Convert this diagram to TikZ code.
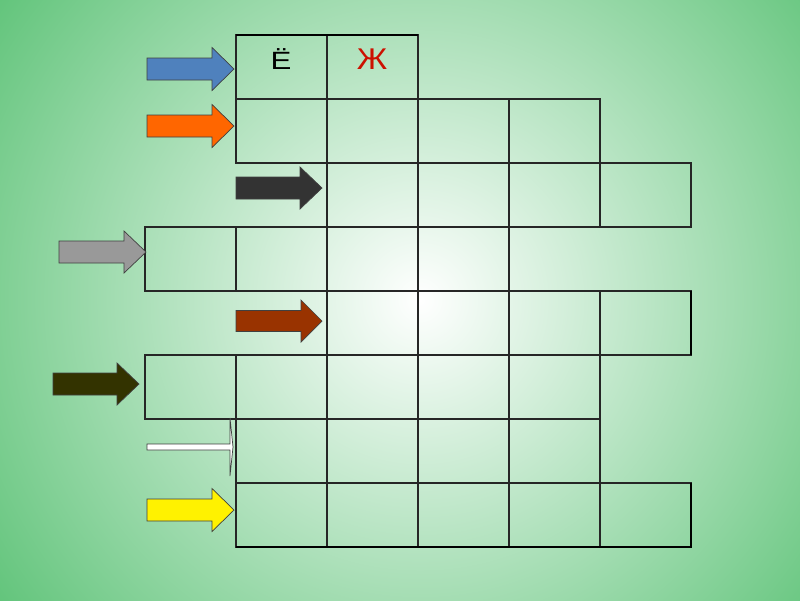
\documentclass[tikz,border=0pt]{standalone}
\usepackage{fontspec}
\setmainfont{Liberation Sans}
\definecolor{bgg}{HTML}{5CC276}
\definecolor{abl}{HTML}{4F81BD}
\definecolor{aor}{HTML}{FF6600}
\definecolor{adg}{HTML}{333333}
\definecolor{agr}{HTML}{999999}
\definecolor{abr}{HTML}{993300}
\definecolor{aol}{HTML}{333300}
\definecolor{ared}{HTML}{CC1100}
\tikzset{
  gridline/.style={draw=black!85, line width=1.1pt},
  thickedge/.style={draw=black, line width=2.4pt},
  arrowline/.style={draw=black!75, line width=0.7pt, line join=miter},
  letter/.style={anchor=base, inner sep=0pt}
}
\newcommand{\blockarrow}[7]{%
  \draw[arrowline, fill=#1] (#2,#5-#6) -- (#3,#5-#6) -- (#3,#5-#7) -- (#4,#5) -- (#3,#5+#7) -- (#3,#5+#6) -- (#2,#5+#6) -- cycle;}
\begin{document}
\begin{tikzpicture}[x=1pt,y=-1pt]
\useasboundingbox (0,0) rectangle (800,600);
\fill[bgg] (0,0) rectangle (800,600);
\begin{scope}
\clip (0,0) rectangle (800,600);
\shade[inner color=white, outer color=bgg] (420,300) circle (540);
\end{scope}
% grid rows
\foreach \xx in {236,327} {\draw[gridline] (\xx,35) rectangle ++(91,64);}
\foreach \xx in {236,327,418,509} {\draw[gridline] (\xx,99) rectangle ++(91,64);}
\foreach \xx in {327,418,509,600} {\draw[gridline] (\xx,163) rectangle ++(91,64);}
\foreach \xx in {145,236,327,418} {\draw[gridline] (\xx,227) rectangle ++(91,64);}
\foreach \xx in {327,418,509,600} {\draw[gridline] (\xx,291) rectangle ++(91,64);}
\foreach \xx in {145,236,327,418,509} {\draw[gridline] (\xx,355) rectangle ++(91,64);}
\foreach \xx in {236,327,418,509} {\draw[gridline] (\xx,419) rectangle ++(91,64);}
\foreach \xx in {236,327,418,509,600} {\draw[gridline] (\xx,483) rectangle ++(91,64);}
% heavier edges
\draw[draw=black, line width=1.8pt] (236,35) -- (418,35);
\draw[thickedge] (691,291) -- (691,355);
\draw[thickedge] (691,483) -- (691,547) -- (236,547);
% letters
\node[letter, font=\fontsize{25}{27}\selectfont] (yo) at (281,69) {\scalebox{1.25}[1]{Ё}};
\node[letter, text=ared, font=\fontsize{30}{32}\selectfont] (zhe) at (372,69) {\scalebox{1.1}[1]{Ж}};
% arrows
\blockarrow{abl}{147}{212}{234}{69}{11}{21.5}
\blockarrow{aor}{147}{212}{234}{126}{11}{21.5}
\blockarrow{adg}{236}{300}{322}{188}{11}{21}
\blockarrow{agr}{59}{124}{146}{252}{11}{21}
\blockarrow{abr}{236}{301}{322}{321}{10.5}{21}
\blockarrow{aol}{53}{117}{139}{384}{11}{21}
\blockarrow{white}{147}{230}{233}{447}{3}{29}
\blockarrow{yellow}{147}{212}{234}{510}{11}{21.5}
\end{tikzpicture}
\end{document}
